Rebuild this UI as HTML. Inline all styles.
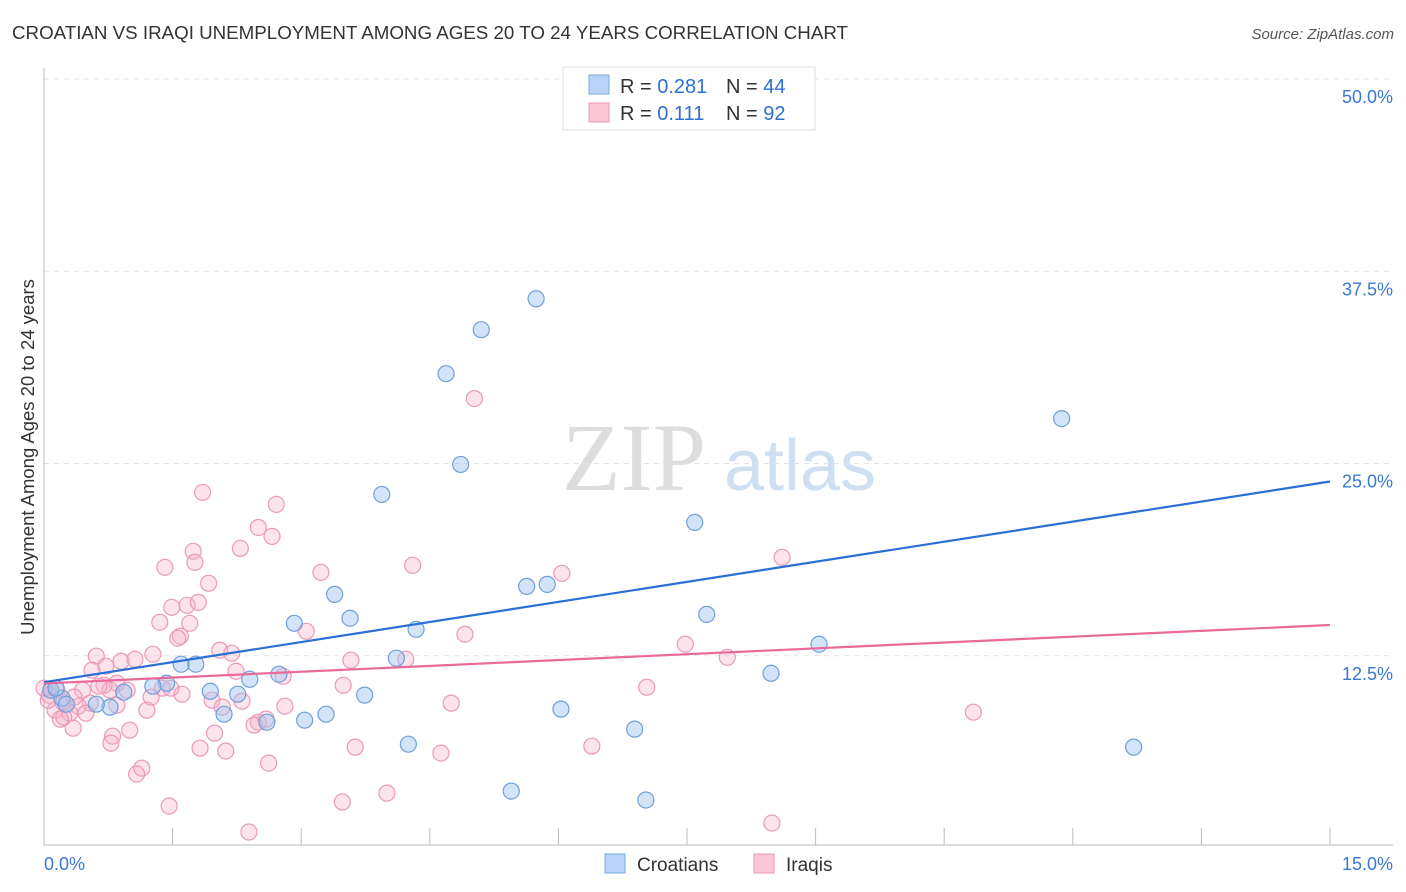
<!DOCTYPE html>
<html><head><meta charset="utf-8"><style>
body{margin:0;background:#fff;font-family:"Liberation Sans",sans-serif;}
#wrap{position:relative;width:1406px;height:892px;overflow:hidden;}
</style></head><body>
<div id="wrap">
<svg id="chart" width="1406" height="892">
<text x="12" y="39" font-size="18" fill="#333" textLength="836" lengthAdjust="spacingAndGlyphs">CROATIAN VS IRAQI UNEMPLOYMENT AMONG AGES 20 TO 24 YEARS CORRELATION CHART</text>
<text x="1394" y="39" font-size="15" fill="#555" font-style="italic" text-anchor="end">Source: ZipAtlas.com</text>
<text x="0" y="0" transform="translate(34,457) rotate(-90)" font-size="18.5" fill="#333" text-anchor="middle">Unemployment Among Ages 20 to 24 years</text>
<text x="634" y="490" font-size="96" fill="#ddd" font-family="Liberation Serif, serif" text-anchor="middle">ZIP</text>
<text x="800" y="490" font-size="72" fill="#cfdff2" text-anchor="middle">atlas</text>
<g id="grid"></g><g id="axes"></g><g id="pts"></g><g id="lines"></g>
<g>
<rect x="563" y="67" width="252" height="63" fill="#fff" stroke="#ddd"/>
<rect x="589" y="75" width="20" height="19" fill="#b8d3f5" stroke="#7aa8e0"/>
<rect x="589" y="103" width="20" height="19" fill="#f9c6d6" stroke="#e99ab6"/>
<text x="620" y="93" font-size="20" fill="#333">R = <tspan fill="#2f6fd0">0.281</tspan></text>
<text x="726" y="93" font-size="20" fill="#333">N = <tspan fill="#2f6fd0">44</tspan></text>
<text x="620" y="120" font-size="20" fill="#333">R =  <tspan fill="#2f6fd0">0.111</tspan></text>
<text x="726" y="120" font-size="20" fill="#333">N = <tspan fill="#2f6fd0">92</tspan></text>
</g>
<g>
<rect x="605" y="854" width="20" height="19" fill="#b8d3f5" stroke="#7aa8e0"/>
<text x="637" y="871" font-size="19" fill="#333">Croatians</text>
<rect x="754" y="854" width="20" height="19" fill="#f9c6d6" stroke="#e99ab6"/>
<text x="786" y="871" font-size="19" fill="#333">Iraqis</text>
</g>
</svg>
</div>
<script>
const yTicks=[12.5,25,37.5,50];
const yTickLabels=["12.5%","25.0%","37.5%","50.0%"];
const xTickCount=10;
const xMin=0,xMax=15,yMin=0,yMax=50;
const blueX=[6.32,5.74,5.10,4.69,4.86,11.87,3.94,7.59,3.39,5.63,5.87,3.57,2.92,7.73,4.34,9.04,4.11,1.60,1.77,2.74,2.40,8.48,1.43,1.27,0.93,1.94,2.26,3.74,0.77,0.61,0.21,0.26,0.08,2.10,3.29,3.04,2.60,6.03,4.25,6.89,12.71,5.45,7.02,0.14];
const blueY=[49.87,35.71,33.70,30.84,24.94,27.92,22.99,21.17,16.49,17.01,17.14,14.94,14.61,15.19,14.22,13.25,12.34,11.95,11.95,11.30,10.97,11.36,10.71,10.52,10.13,10.19,10.0,9.94,9.16,9.35,9.74,9.35,10.26,8.70,8.70,8.31,8.18,9.03,6.75,7.73,6.56,3.70,3.12,10.39];
const pinkX=[5.02,1.85,2.71,2.50,2.66,2.29,1.74,1.76,1.41,1.92,3.23,4.30,6.04,8.61,1.67,1.49,1.80,1.35,1.70,1.59,1.56,3.06,4.91,7.48,2.05,2.19,1.27,0.90,0.61,1.06,3.58,4.22,0.72,0.56,7.97,2.24,2.79,0.85,0.70,1.38,1.48,1.61,3.49,7.03,1.25,0.97,0.77,0.45,1.96,2.31,2.08,2.81,4.75,10.84,1.20,0.85,0.54,0.40,0.30,0.49,0.23,0.13,0.08,0.06,0.15,0.34,1.00,1.99,2.50,2.59,2.45,0.80,0.78,1.82,2.12,3.63,4.63,6.39,2.62,1.14,1.08,4.00,3.48,1.46,2.39,8.49,0.22,0.35,0.19,0.64,0.05,0];
const pinkY=[29.22,23.12,22.34,20.84,20.26,19.48,19.29,18.57,18.25,17.21,17.92,18.38,17.86,18.90,15.78,15.65,15.97,14.68,14.61,13.77,13.64,14.09,13.90,13.25,12.86,12.66,12.60,12.14,12.47,12.27,12.21,12.27,11.82,11.56,12.40,11.49,11.17,10.71,10.58,10.39,10.39,10.00,10.58,10.45,9.81,10.26,10.26,10.26,9.61,9.55,9.16,9.22,9.42,8.83,8.96,9.29,9.42,9.22,8.77,8.77,8.51,8.96,10.26,9.94,10.26,7.79,7.66,7.47,8.18,8.38,7.99,7.27,6.82,6.49,6.30,6.56,6.17,6.62,5.52,5.19,4.81,3.57,2.99,2.73,1.04,1.62,9.48,9.81,8.38,10.52,9.61,10.39];
const blueTrend=[10.78,23.83];
const pinkTrend=[10.7,14.5];
const X0=44,X1=1330,Y0=848,Y1=79;
const sx=v=>X0+(v-xMin)/(xMax-xMin)*(X1-X0);
const sy=v=>Y0-(v-yMin)/(yMax-yMin)*(Y0-Y1);
const NS="http://www.w3.org/2000/svg";
function mk(tag,attrs,parent){const e=document.createElementNS(NS,tag);for(const k in attrs)e.setAttribute(k,attrs[k]);parent.appendChild(e);return e;}
const grid=document.getElementById('grid'),axes=document.getElementById('axes'),pts=document.getElementById('pts'),lines=document.getElementById('lines');
yTicks.forEach((t,i)=>{
 const g=mk('line',{x1:X0,x2:1393,y1:sy(t),y2:sy(t),stroke:'#e2e2e2','stroke-dasharray':'5,5'},grid);
 
 
 const l=mk('text',{x:1393,y:sy(t)+24,'font-size':18,fill:'#3a78d4','text-anchor':'end'},grid);
 l.textContent=yTickLabels[i];
 
 
});
const ya=mk('line',{x1:X0,x2:X0,y1:68,y2:845,stroke:'#bbb'},axes);


const xa=mk('line',{x1:X0,x2:1393,y1:845,y2:845,stroke:'#bbb'},axes);


for(let i=0;i<=xTickCount;i++){
 const v=xMin+(xMax-xMin)*i/xTickCount;
 const t=mk('line',{x1:sx(v),x2:sx(v),y1:828,y2:845,stroke:'#bbb'},axes);
 
 
}
const xl0=mk('text',{x:44,y:870,'font-size':18,fill:'#3a78d4'},axes);xl0.textContent='0.0%';


const xl1=mk('text',{x:1393,y:870,'font-size':18,fill:'#3a78d4','text-anchor':'end'},axes);xl1.textContent='15.0%';


pinkX.forEach((x,i)=>{
 const c=mk('circle',{cx:sx(x),cy:sy(pinkY[i]),r:8,fill:'rgba(246,176,200,0.35)',stroke:'#ea9ab8','stroke-width':1.2},pts);
 
 
});
blueX.forEach((x,i)=>{
 const c=mk('circle',{cx:sx(x),cy:sy(blueY[i]),r:8,fill:'rgba(160,195,240,0.45)',stroke:'#6f9fdc','stroke-width':1.2},pts);
 
 
});
const bl=mk('line',{x1:sx(xMin),y1:sy(blueTrend[0]),x2:sx(xMax),y2:sy(blueTrend[1]),stroke:'#2a6fd6','stroke-width':2.2},lines);


const pl=mk('line',{x1:sx(xMin),y1:sy(pinkTrend[0]),x2:sx(xMax),y2:sy(pinkTrend[1]),stroke:'#e86a9a','stroke-width':2.2},lines);


</script>
</body></html>
